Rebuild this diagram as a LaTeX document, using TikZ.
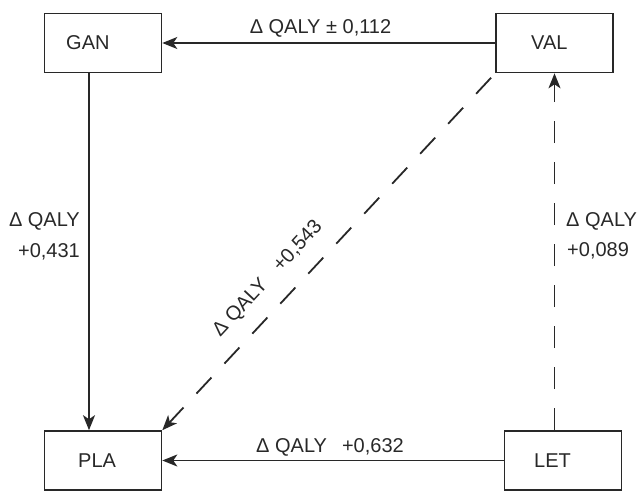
\documentclass[tikz,border=0pt]{standalone}
\usepackage{fontspec}
\setmainfont{Liberation Sans}
\usetikzlibrary{arrows.meta}
\definecolor{ink}{RGB}{40,40,40}
\begin{document}
\begin{tikzpicture}[x=1pt,y={(0pt,-1pt)},
  font=\fontsize{20}{24}\selectfont, text=ink,
  box/.style={draw=ink, line width=1.6pt, minimum width=117pt, minimum height=59pt, inner sep=0pt},
  lbl/.style={inner sep=0pt, anchor=base},
  conn/.style={draw=ink, line width=1.8pt, -{Stealth[length=15pt,width=12pt,inset=4pt]}},
  dashline/.style={conn, dash pattern=on 22pt off 19pt}]
\useasboundingbox (0,0) rectangle (638,491);
% boxes
\node[box] (gan) at (103,43) {};
\node[box] (val) at (554.5,43) {};
\node[box] (pla) at (103,460.5) {};
\node[box] (let) at (563,460.5) {};
\node[lbl, anchor=base west] (gant) at (66,49) {GAN};
\node[lbl, anchor=base west] (valt) at (531,49) {VAL};
\node[lbl, anchor=base west] (plat) at (78,467) {PLA};
\node[lbl, anchor=base west] (lett) at (534,467) {LET};
% connectors
\draw[conn] (val.west) -- (gan.east);
\draw[conn] (gan.south -| 89,0) -- (pla.north -| 89,0);
\draw[conn] (let.west) -- (pla.east);
\draw[dashline] (let.north -| val.south) -- (val.south);
\draw[dashline, shorten <=6pt] (val.south west) -- (pla.north east);
% labels
\node[lbl] (l1) at (320.5,33) {Δ QALY ± 0,112};
\node[lbl, anchor=base east] (l2a) at (80,226) {Δ QALY};
\node[lbl, anchor=base east] (l2b) at (80,257) {+0,431};
\node[lbl, anchor=base west] (l3a) at (566,226) {Δ QALY};
\node[lbl, anchor=base west] (l3b) at (567,256) {+0,089};
\node[lbl] (l4) at (330,452) {Δ QALY\hspace{0.75em}+0,632};
\node[inner sep=0pt, rotate=47] (l5) at (268,279) {Δ QALY\hspace{0.9em}+0,543};
\end{tikzpicture}
\end{document}
